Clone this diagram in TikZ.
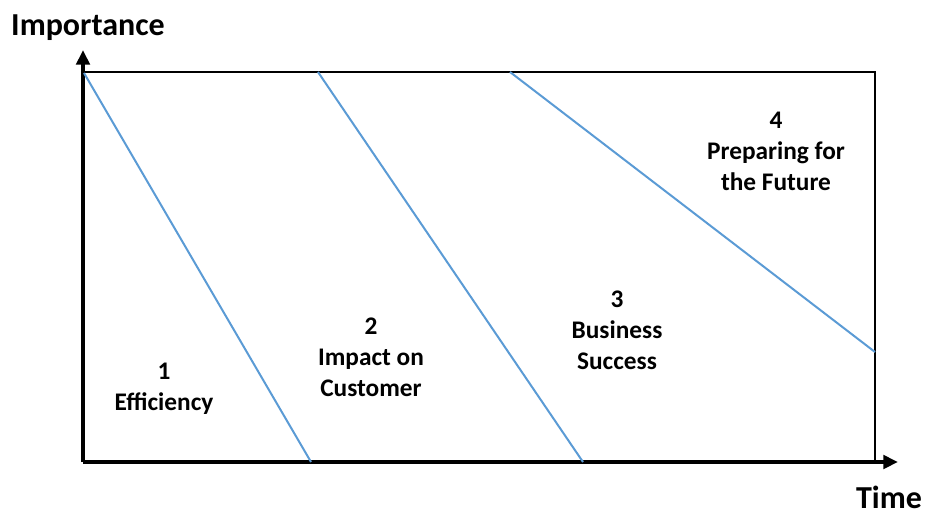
\documentclass[tikz,border=0pt]{standalone}
\usepackage{fontspec}
\setmainfont{Carlito}
\usepackage{xcolor}
\usetikzlibrary{arrows.meta, positioning}
\definecolor{phaseblue}{RGB}{91, 155, 213}

\begin{document}
\begin{tikzpicture}[x=0.75pt, y=-0.75pt, >={Triangle[length=11pt, width=10pt]},
  axis/.style={line width=3pt, ->},
  frame/.style={line width=1.5pt},
  phase/.style={line width=1.5pt, phaseblue},
  lbl/.style={font=\fontsize{19pt}{23.25pt}\selectfont\bfseries, align=center, inner sep=0pt}]
  \useasboundingbox (0,0) rectangle (928,515);
  % corners of the chart
  \coordinate (origin) at (83,462);
  \coordinate (ytip) at (83,50);
  \coordinate (xtip) at (898,462);
  \coordinate (tl) at (83,72);
  \coordinate (tr) at (875,72);
  \coordinate (br) at (875,462);
  % axes and frame
  \draw[frame] (tl) -- (tr) -- (br);
  \draw[axis] (origin) -- (ytip);
  \draw[axis] (origin) -- (xtip);
  \node[font=\fontsize{24pt}{28pt}\selectfont\bfseries, anchor=base, inner sep=0pt] (ylab) at (88,35) {Importance};
  \node[font=\fontsize{24pt}{28pt}\selectfont\bfseries, anchor=base, inner sep=0pt] (xlab) at (889,508) {Time};
  % boundaries between the phases
  \coordinate (b1s) at (84,73);
  \coordinate (b1e) at (311,462);
  \coordinate (b2s) at (318,72);
  \coordinate (b2e) at (583,462);
  \coordinate (b3s) at (510,72);
  \coordinate (b3e) at (875,352);
  \draw[phase] (b1s) -- (b1e);
  \draw[phase] (b2s) -- (b2e);
  \draw[phase] (b3s) -- (b3e);
  % phase labels
  \node[lbl] (p1) at (164,389) {1\\Efficiency};
  \node[lbl] (p2) at (371,357) {2\\Impact on\\Customer};
  \node[lbl] (p3) at (617,330) {3\\Business\\Success};
  \node[lbl] (p4) at (776,151) {4\\Preparing for\\the Future};
\end{tikzpicture}
\end{document}
